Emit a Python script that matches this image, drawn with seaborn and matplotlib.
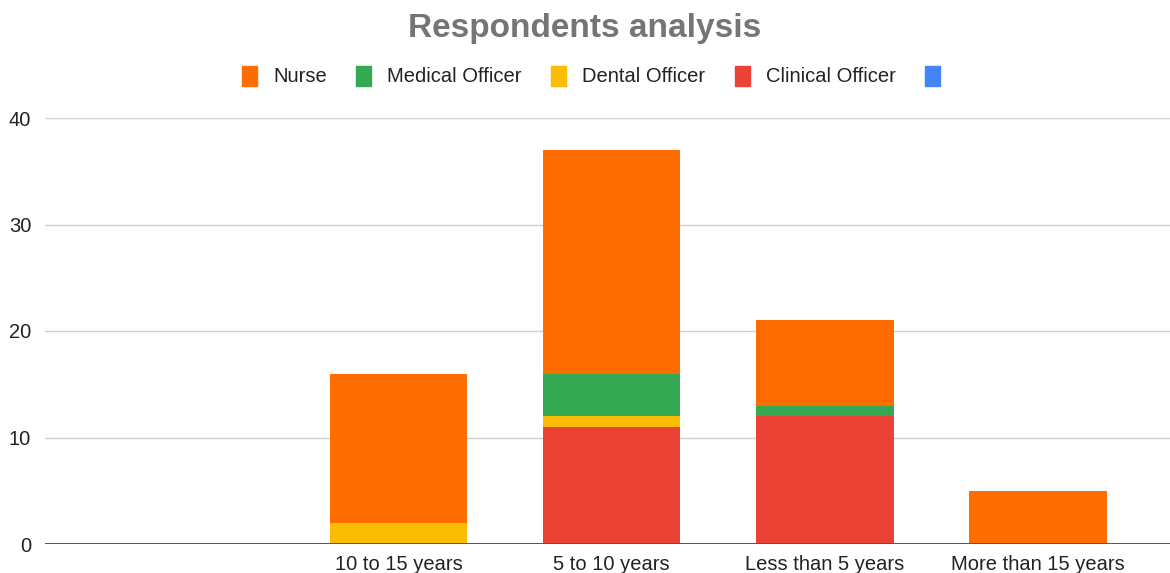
import matplotlib
matplotlib.use("Agg")
import matplotlib.pyplot as plt
import numpy as np
import pandas as pd
import seaborn as sns

# Data
categories = ["", "10 to 15 years", "5 to 10 years", "Less than 5 years", "More than 15 years"]
clinical = [0, 0, 11, 12, 0]
dental = [0, 2, 1, 0, 0]
medical = [0, 0, 4, 1, 0]
nurse = [0, 14, 21, 8, 5]

series_names = ["Nurse", "Medical Officer", "Dental Officer", "Clinical Officer", ""]
series_colors = ["#FF6D01", "#34A853", "#FBBC04", "#EA4335", "#4285F4"]


def main():
    sns.set_style("white")
    plt.rcParams["font.family"] = ["Liberation Sans", "DejaVu Sans"]

    df = pd.DataFrame({"category": categories, "Clinical Officer": clinical,
                       "Dental Officer": dental, "Medical Officer": medical, "Nurse": nurse})
    # stacked from bottom: clinical, dental, medical, nurse
    stack_order = ["Clinical Officer", "Dental Officer", "Medical Officer", "Nurse"]
    cum = df[stack_order].cumsum(axis=1)

    fig = plt.figure(figsize=(11.7, 5.73), dpi=100)
    ax = fig.add_axes([45 / 1170, 1 - 544 / 573, 1 - 45 / 1170, (544 - 118) / 573])

    colors = dict(zip(series_names, series_colors))
    for name in reversed(stack_order):
        sns.barplot(x=df["category"], y=cum[name], order=categories, color=colors[name],
                    width=0.645, saturation=1, linewidth=0, ax=ax)

    ax.set_xlim(-0.66, 4.62)
    ax.set_ylim(0, 40)
    ax.set_yticks([0, 10, 20, 30, 40])
    ax.set_xlabel("")
    ax.set_ylabel("")
    ax.grid(axis="y", color="#d0d0d0", linewidth=1)
    ax.set_axisbelow(True)
    for s in ax.spines.values():
        s.set_visible(False)
    ax.axhline(0, color="#555555", linewidth=1.4, zorder=5)
    ax.tick_params(axis="y", length=0, pad=10, labelsize=14.5, labelcolor="#222222")
    ax.tick_params(axis="x", length=0, pad=8, labelsize=14.5, labelcolor="#222222")

    fig.text(0.5, 1 - 28 / 573, "Respondents analysis", ha="center", va="center",
             fontsize=24, fontweight="bold", color="#757575")

    handles = [plt.Rectangle((0, 0), 1, 1, color=c) for c in series_colors]
    fig.legend(handles, series_names, loc="center", bbox_to_anchor=(0.5 + 14 / 1170, 1 - 76 / 573),
               ncol=5, frameon=False, fontsize=14.5, handlelength=0.75, handleheight=1.15,
               handletextpad=0.8, columnspacing=1.45, labelcolor="#222222")

    fig.savefig("out.png", dpi=100, facecolor="white")
    plt.close(fig)


if __name__ == "__main__":
    main()
